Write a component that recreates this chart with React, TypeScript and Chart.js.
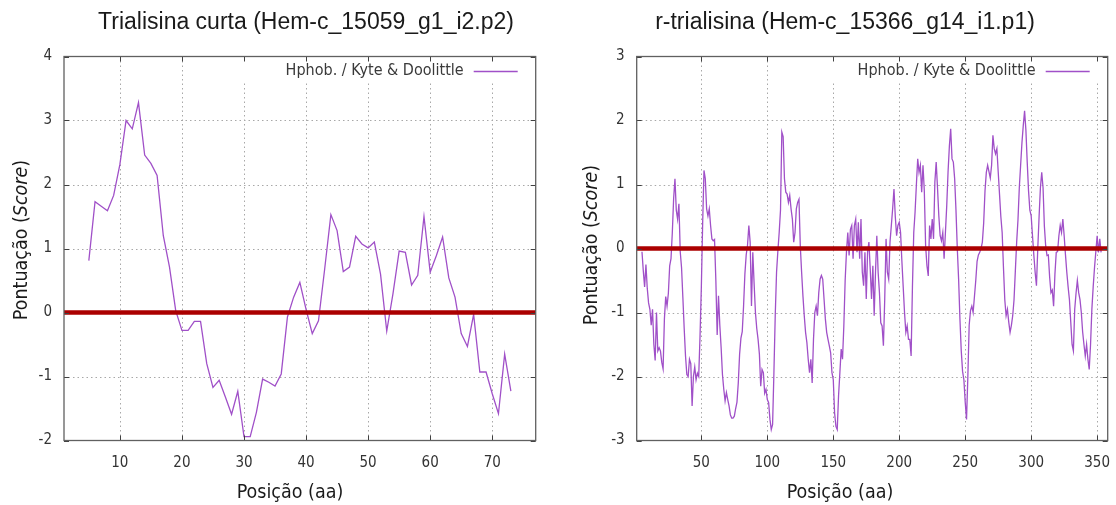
import React, { useEffect, useRef } from "react";
import { Chart, registerables } from "chart.js";

Chart.register(...registerables);

const leftTitle = "Trialisina curta (Hem-c_15059_g1_i2.p2)";
const rightTitle = "r-trialisina (Hem-c_15366_g14_i1.p1)";
const legendLabel = "Hphob. / Kyte & Doolittle";
const xAxisTitle = "Posição (aa)";
const yAxisTitleParts = ["Pontuação (", "Score", ")"];

const leftStart = 5;
const leftScores = [
  0.81, 1.73, 1.66, 1.59, 1.83, 2.31, 3.0, 2.87, 3.28, 2.46,
  2.33, 2.14, 1.2, 0.71, 0.03, -0.28, -0.28, -0.14, -0.14, -0.8,
  -1.17, -1.06, -1.32, -1.59, -1.23, -1.94, -1.94, -1.56, -1.04, -1.09,
  -1.15, -0.96, -0.07, 0.24, 0.47, 0.05, -0.33, -0.13, 0.68, 1.53,
  1.28, 0.64, 0.71, 1.19, 1.07, 1.01, 1.1, 0.6, -0.29, 0.29,
  0.96, 0.94, 0.43, 0.58, 1.5, 0.63, 0.89, 1.18, 0.54, 0.24,
  -0.33, -0.53, -0.03, -0.93, -0.93, -1.27, -1.58, -0.65, -1.23,
];
const leftXRange = [1, 77];
const leftXTicks = [10, 20, 30, 40, 50, 60, 70];
const leftYTicks = [-2, -1, 0, 1, 2, 3, 4];

const rightStart = 5;
const rightScores = [
  -0.05, -0.35, -0.6, -0.25, -0.62, -0.85, -0.95, -1.2, -0.95, -1.5,
  -1.75, -1.0, -1.6, -1.55, -1.6, -1.78, -1.88, -1.1, -0.75, -0.9,
  -0.7, -0.27, -0.16, 0.25, 0.78, 1.09, 0.6, 0.46, 0.7, -0.05,
  -0.3, -0.77, -1.25, -1.68, -1.97, -2.0, -1.73, -1.8, -2.46, -2.0,
  -1.85, -2.05, -1.95, -2.0, -1.37, -0.6, 0.4, 1.22, 1.09, 0.62,
  0.51, 0.62, 0.36, 0.15, 0.12, 0.14, -0.5, -1.35, -0.74, -1.2,
  -1.55, -1.97, -2.2, -2.38, -2.25, -2.36, -2.46, -2.6, -2.65, -2.65,
  -2.62, -2.5, -2.4, -2.1, -1.65, -1.4, -1.3, -0.9, -0.4, -0.1,
  0.05, 0.36, 0.1, -0.9, -0.06, -0.55, -1.0, -1.25, -1.42, -1.65,
  -2.15, -1.89, -1.94, -2.26, -2.2, -2.36, -2.41, -2.67, -2.83, -2.75,
  -1.94, -1.05, -0.37, -0.04, 0.25, 0.6, 1.82, 1.75, 1.09, 0.88,
  0.85, 0.72, 0.83, 0.62, 0.46, 0.1, 0.25, 0.62, 0.72, 0.77,
  0.04, -0.37, -0.74, -1.05, -1.31, -1.47, -1.73, -1.94, -1.73, -2.1,
  -1.42, -1.0, -0.9, -1.05, -0.69, -0.48, -0.42, -0.48, -0.79, -1.1,
  -1.31, -1.42, -1.52, -1.63, -1.94, -2.05, -2.57, -2.78, -2.83, -2.3,
  -1.94, -1.57, -1.73, -1.21, -0.5, -0.05, 0.25, -0.11, 0.3, 0.36,
  -0.16, 0.36, 0.46, -0.06, 0.41, -0.16, 0.46, -0.37, -0.58, -0.06,
  -0.79, -0.06, 0.1, -0.32, -0.79, -0.27, -1.05, -0.37, 0.2, -0.37,
  -0.69, -1.16, -1.21, -1.52, -0.79, 0.15, -0.37, -0.48, 0.1, 0.36,
  0.62, 0.93, 0.5, 0.2, 0.36, 0.41, 0.25, -0.2, -0.6, -1.0,
  -1.31, -1.21, -1.42, -1.42, -1.68, -0.6, 0.25, 0.57, 1.0, 1.4,
  1.19, 1.3, 0.88, 1.3, 0.9, 0.04, -0.27, -0.43, 0.36, 0.15,
  0.46, 0.15, 1.04, 1.35, 0.95, 0.51, 0.2, 0.12, 0.25, -0.16,
  0.25, 0.67, 1.2, 1.6, 1.87, 1.4, 1.35, 1.09, 0.6, 0.0,
  -0.48, -1.1, -1.6, -1.92, -2.05, -2.4, -2.67, -2.0, -1.2, -0.97,
  -0.9, -1.0, -0.75, -0.5, -0.2, -0.1, -0.06, 0.0, 0.1, 0.4,
  0.9, 1.19, 1.3, 1.2, 1.1, 1.3, 1.77, 1.56, 1.48, 1.56,
  1.2, 0.85, 0.5, 0.25, -0.3, -0.8, -1.05, -0.95, -1.15, -1.31,
  -1.2, -1.05, -0.8, -0.35, 0.1, 0.45, 0.95, 1.3, 1.65, 1.92,
  2.15, 1.85, 1.35, 0.9, 0.6, 0.51, 0.2, -0.1, -0.37, -0.58,
  0.0, 0.5, 0.95, 1.19, 0.95, 0.35, 0.04, -0.11, -0.1, -0.45,
  -0.69, -0.65, -0.9, -0.4, -0.06, -0.05, 0.2, 0.36, 0.25, 0.46,
  0.2, -0.1, -0.37, -0.6, -0.8, -1.15, -1.5, -1.6, -0.95, -0.7,
  -0.5, -0.69, -0.8, -1.0, -1.3, -1.5, -1.68, -1.5, -1.73, -1.89,
  -1.5, -0.95, -0.6, -0.3, -0.05, 0.2, -0.06, 0.15, -0.06,
];
const rightXRange = [1, 358];
const rightXTicks = [50, 100, 150, 200, 250, 300, 350];
const rightYTicks = [-3, -2, -1, 0, 1, 2, 3];

const CANVAS_W = 558;
const CANVAS_H = 505;
const FAMILY = "'DejaVu Sans Condensed', 'DejaVu Sans', sans-serif";
const LEGEND_FONT = "16px " + FAMILY;
const AXIS_FONT = "19.5px " + FAMILY;
const AXIS_FONT_IT = "italic 19.5px " + FAMILY;
const TITLE_FONT = "23px 'Liberation Sans', Arial, sans-serif";

type Panel = {
  title: string;
  start: number;
  scores: number[];
  xRange: number[];
  xTicks: number[];
  yTicks: number[];
  yAxisWidth: number;
  padRight: number;
  titleX: number;
  xTitleX: number;
  yTitleX: number;
  yTitleY: number;
};

const panels: Panel[] = [
  {
    title: leftTitle, start: leftStart, scores: leftScores, xRange: leftXRange,
    xTicks: leftXTicks, yTicks: leftYTicks, yAxisWidth: 64, padRight: 22.3,
    titleX: 306, xTitleX: 290, yTitleX: 22, yTitleY: 240,
  },
  {
    title: rightTitle, start: rightStart, scores: rightScores, xRange: rightXRange,
    xTicks: rightXTicks, yTicks: rightYTicks, yAxisWidth: 78.7, padRight: 8.3,
    titleX: 287, xTitleX: 282, yTitleX: 34, yTitleY: 245,
  },
];

function makePlugin(p: Panel) {
  return {
    id: "gnuplotLook",
    beforeDatasetsDraw(chart: any) {
      const { ctx, chartArea: a, scales } = chart;
      const xs = scales.x, ys = scales.y;
      ctx.save();
      ctx.strokeStyle = "#a8a8a8";
      ctx.lineWidth = 1;
      ctx.setLineDash([1.5, 3]);
      p.xTicks.forEach((v) => {
        const px = Math.round(xs.getPixelForValue(v)) + 0.5;
        ctx.beginPath();
        ctx.moveTo(px, a.top);
        ctx.lineTo(px, a.bottom);
        ctx.stroke();
      });
      p.yTicks.forEach((v) => {
        const py = Math.round(ys.getPixelForValue(v)) + 0.5;
        if (py <= a.top + 1 || py >= a.bottom - 1) return;
        ctx.beginPath();
        ctx.moveTo(a.left, py);
        ctx.lineTo(a.right, py);
        ctx.stroke();
      });
      ctx.setLineDash([]);
      // legend
      ctx.font = LEGEND_FONT;
      const tw = ctx.measureText(legendLabel).width;
      const textRight = a.right - 72;
      const boxLeft = textRight - tw - 45;
      ctx.fillStyle = "#ffffff";
      ctx.fillRect(boxLeft, a.top + 1, a.right - boxLeft - 1, 24);
      ctx.fillStyle = "#3a3a3a";
      ctx.textAlign = "right";
      ctx.textBaseline = "middle";
      ctx.fillText(legendLabel, textRight, a.top + 14);
      ctx.strokeStyle = "#a050c8";
      ctx.lineWidth = 1.3;
      ctx.beginPath();
      ctx.moveTo(a.right - 62, a.top + 15);
      ctx.lineTo(a.right - 18, a.top + 15);
      ctx.stroke();
      ctx.restore();
    },
    afterDatasetsDraw(chart: any) {
      const { ctx, chartArea: a, scales } = chart;
      const xs = scales.x, ys = scales.y;
      ctx.save();
      ctx.strokeStyle = "#404040";
      ctx.lineWidth = 1;
      const tl = 5;
      p.xTicks.forEach((v) => {
        const px = Math.round(xs.getPixelForValue(v)) + 0.5;
        ctx.beginPath();
        ctx.moveTo(px, a.bottom);
        ctx.lineTo(px, a.bottom - tl);
        ctx.moveTo(px, a.top);
        ctx.lineTo(px, a.top + tl);
        ctx.stroke();
      });
      p.yTicks.forEach((v) => {
        const py = Math.round(ys.getPixelForValue(v)) + 0.5;
        ctx.beginPath();
        ctx.moveTo(a.left, py);
        ctx.lineTo(a.left + tl, py);
        ctx.moveTo(a.right, py);
        ctx.lineTo(a.right - tl, py);
        ctx.stroke();
      });
      ctx.strokeStyle = "#606060";
      ctx.lineWidth = 1.3;
      ctx.strokeRect(a.left, a.top, a.right - a.left, a.bottom - a.top);
      ctx.restore();
    },
    afterDraw(chart: any) {
      const { ctx } = chart;
      ctx.save();
      ctx.fillStyle = "#1a1a1a";
      ctx.textBaseline = "middle";
      ctx.textAlign = "center";
      ctx.font = TITLE_FONT;
      ctx.fillText(p.title, p.titleX, 23);
      ctx.font = AXIS_FONT;
      ctx.fillText(xAxisTitle, p.xTitleX, 493);
      ctx.translate(p.yTitleX, p.yTitleY);
      ctx.rotate(-Math.PI / 2);
      const fonts = [AXIS_FONT, AXIS_FONT_IT, AXIS_FONT];
      const widths = yAxisTitleParts.map((t, i) => {
        ctx.font = fonts[i];
        return ctx.measureText(t).width;
      });
      const total = widths.reduce((s, w) => s + w, 0);
      let x = -total / 2;
      ctx.textAlign = "left";
      yAxisTitleParts.forEach((t, i) => {
        ctx.font = fonts[i];
        ctx.fillText(t, x, 0);
        x += widths[i];
      });
      ctx.restore();
    },
  };
}

function zeroPadding(s: any) {
  s.paddingLeft = 0;
  s.paddingRight = 0;
  s.paddingTop = 0;
  s.paddingBottom = 0;
}

function PanelChart({ p, left }: { p: Panel; left: number }) {
  const ref = useRef<HTMLCanvasElement | null>(null);
  useEffect(() => {
    if (!ref.current) return;
    const points = p.scores.map((v, i) => ({ x: p.start + i, y: v }));
    const zeroLine = [
      { x: p.xRange[0], y: 0 },
      { x: p.xRange[1], y: 0 },
    ];
    const chart = new Chart(ref.current, {
      type: "line",
      data: {
        datasets: [
          {
            data: zeroLine,
            borderColor: "#ab0000",
            borderWidth: 4.5,
            pointRadius: 0,
            tension: 0,
            order: 0,
          },
          {
            data: points,
            borderColor: "#a050c8",
            borderWidth: 1.3,
            pointRadius: 0,
            tension: 0,
            order: 1,
          },
        ],
      },
      options: {
        responsive: false,
        maintainAspectRatio: false,
        animation: false,
        events: [],
        layout: { padding: { left: 0, right: p.padRight, top: 56.5, bottom: 0 } },
        plugins: { legend: { display: false }, tooltip: { enabled: false }, title: { display: false } },
        scales: {
          x: {
            type: "linear",
            min: p.xRange[0],
            max: p.xRange[1],
            afterBuildTicks: (s: any) => {
              s.ticks = p.xTicks.map((v) => ({ value: v }));
            },
            afterFit: (s: any) => {
              s.height = CANVAS_H - 440.5;
              zeroPadding(s);
            },
            grid: { display: false, drawTicks: false },
            border: { display: false },
            ticks: {
              padding: 14,
              color: "#333333",
              maxRotation: 0,
              autoSkip: false,
              font: { family: FAMILY, size: 15 },
            },
          },
          y: {
            type: "linear",
            min: p.yTicks[0],
            max: p.yTicks[p.yTicks.length - 1],
            afterBuildTicks: (s: any) => {
              s.ticks = p.yTicks.map((v) => ({ value: v }));
            },
            afterFit: (s: any) => {
              s.width = p.yAxisWidth;
              zeroPadding(s);
            },
            grid: { display: false, drawTicks: false },
            border: { display: false },
            ticks: {
              padding: 12,
              color: "#333333",
              autoSkip: false,
              font: { family: FAMILY, size: 15 },
            },
          },
        },
      },
      plugins: [makePlugin(p)],
    } as any);
    return () => chart.destroy();
  }, [p]);
  return (
    <canvas
      ref={ref}
      width={CANVAS_W}
      height={CANVAS_H}
      style={{ position: "absolute", left, top: 0, width: CANVAS_W, height: CANVAS_H }}
    />
  );
}

export default function App() {
  useEffect(() => {
    document.body.style.margin = "0";
    document.body.style.background = "#ffffff";
  }, []);
  return (
    <div style={{ position: "absolute", left: 0, top: 0, width: 1116, height: 505, background: "#ffffff", overflow: "hidden" }}>
      <PanelChart p={panels[0]} left={0} />
      <PanelChart p={panels[1]} left={558} />
    </div>
  );
}
